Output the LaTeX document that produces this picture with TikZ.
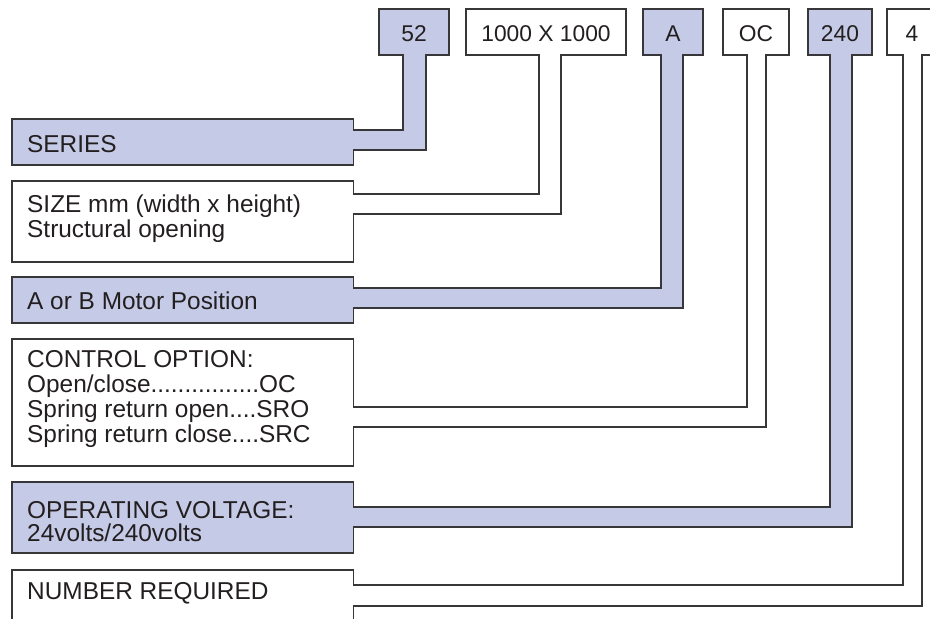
\documentclass[tikz,border=0pt]{standalone}
\usepackage{fontspec}
\setmainfont{Liberation Sans}
\definecolor{lav}{RGB}{197,202,230}
\definecolor{edgec}{RGB}{55,55,58}
\definecolor{txt}{RGB}{35,31,32}
% box left, box right, stem left, stem right, band top, band bottom, left box top, left box bottom, style
\newcommand\mytag[9]{\path[#9] (#1,9) -- (#2,9) -- (#2,55) -- (#4,55) -- (#4,#6) -- (353.5,#6) -- (353.5,#8) -- (12,#8) -- (12,#7) -- (353.5,#7) -- (353.5,#5) -- (#3,#5) -- (#3,55) -- (#1,55) -- cycle;}
\begin{document}
\begin{tikzpicture}[x=1bp,y=-1bp,
  tagline/.style={draw=edgec, line width=1.35bp, line join=miter},
  shadedtag/.style={tagline, fill=lav},
  plaintag/.style={tagline, fill=white},
  lbl/.style={anchor=base west, inner sep=0pt, text=txt, font=\fontsize{24.4bp}{25bp}\selectfont},
  toplbl/.style={anchor=base, inner sep=0pt, text=txt, font=\fontsize{22.8bp}{24bp}\selectfont}]
\useasboundingbox (0,0) rectangle (930,619);
\begin{scope}
\clip (0,0) rectangle (930,619);
\mytag{379}{449}{403}{426}{130}{150}{119}{165}{shadedtag}
\mytag{466}{626}{539}{561}{194}{214}{181}{262}{plaintag}
\mytag{643}{703}{661}{683}{288}{308}{277}{323}{shadedtag}
\mytag{723}{789}{747}{766}{407}{427}{339}{466}{plaintag}
\mytag{808}{872}{830}{852}{507}{527}{482}{553}{shadedtag}
\mytag{887}{940}{903}{922}{585}{606}{570}{640}{plaintag}
\end{scope}
\node[toplbl] (t52) at (414,42) {52};
\node[toplbl] (tsize) at (546,42) {1000 X 1000};
\node[toplbl] (ta) at (673,42) {A};
\node[toplbl] (toc) at (756,42) {OC};
\node[toplbl] (t240) at (840,42) {240};
\node[toplbl] (t4) at (912,42) {4};
\node[lbl] (series) at (27,153) {SERIES};
\node[lbl] (size1) at (27,213) {SIZE mm (width x height)};
\node[lbl] (size2) at (27,238) {Structural opening};
\node[lbl] (motor) at (27,309) {A or B Motor Position};
\node[lbl] (ctrl1) at (27,367) {CONTROL OPTION:};
\node[lbl] (ctrl2) at (27,392) {Open/close................OC};
\node[lbl] (ctrl3) at (27,417) {Spring return open....SRO};
\node[lbl] (ctrl4) at (27,442) {Spring return close....SRC};
\node[lbl] (volt1) at (27,518) {OPERATING VOLTAGE:};
\node[lbl] (volt2) at (27,541) {24volts/240volts};
\node[lbl] (num) at (27,599) {NUMBER REQUIRED};
\end{tikzpicture}
\end{document}
